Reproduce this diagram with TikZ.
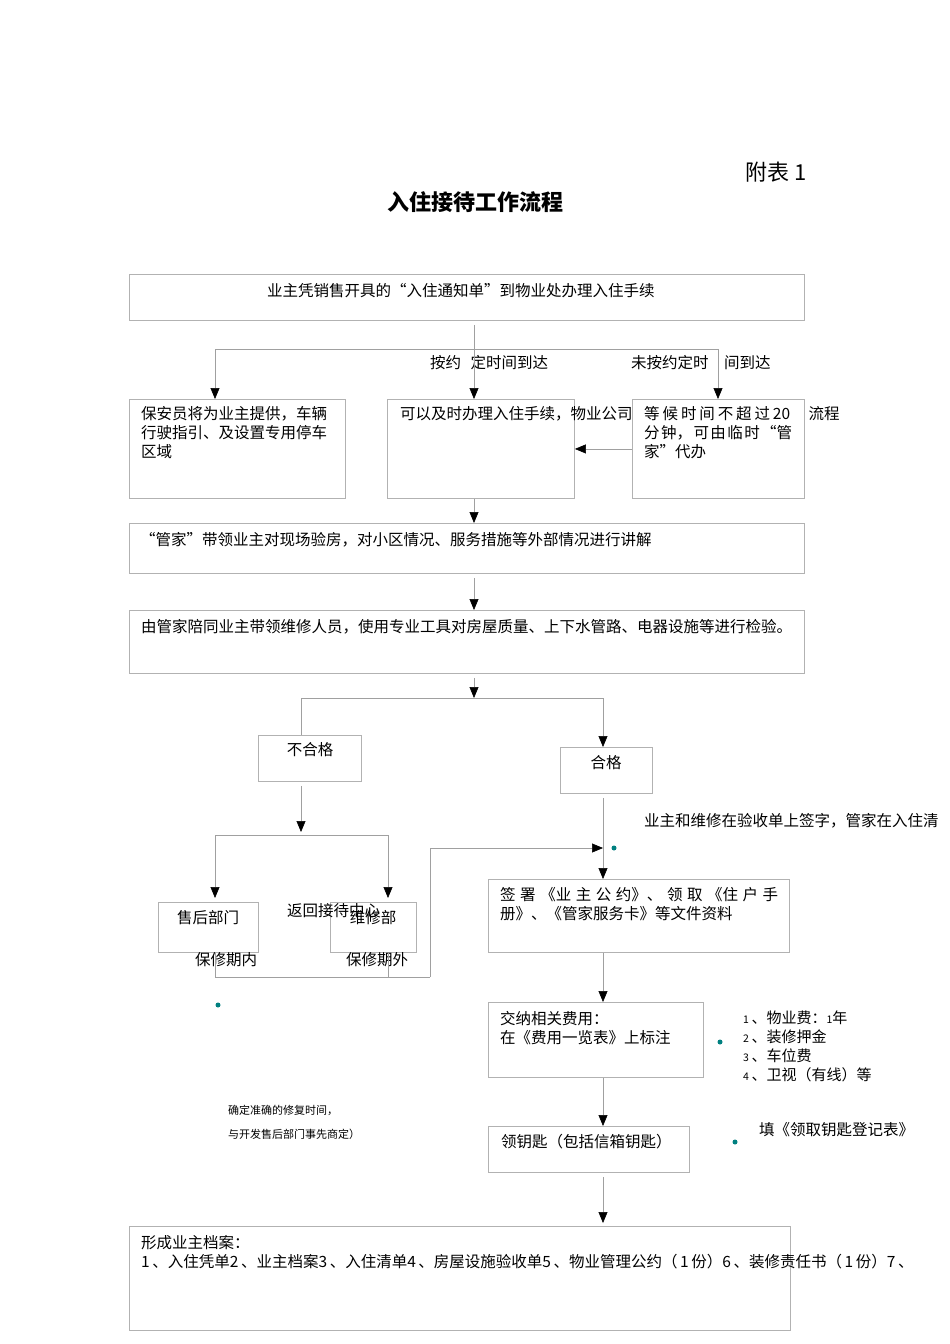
\documentclass[tikz,border=0pt]{standalone}
\usepackage{fontspec}
\setmainfont{Noto Sans CJK SC}
\usetikzlibrary{positioning, arrows.meta, calc}
\definecolor{boxgray}{RGB}{178,178,178}
\definecolor{linegray}{RGB}{160,160,160}
\definecolor{dotteal}{RGB}{0,128,128}

\begin{document}
\begin{tikzpicture}[x=1pt, y=-1pt]
        \tikzset{box/.style = {draw=boxgray, fill=white, line width=0.9pt, anchor=north west, inner sep=0pt}}
        \tikzset{txt/.style = {anchor=west, inner sep=0pt, font=\fontsize{15.5}{19}\selectfont}}
        \tikzset{multi/.style = {anchor=north west, inner sep=0pt, align=left, font=\fontsize{15.5}{19}\selectfont}}
        \tikzset{conn/.style = {draw=linegray, line width=0.6pt}}
        \tikzset{arr/.style = {conn, -{Triangle[length=11pt, width=9pt, color=black]}}}
        \tikzset{dot/.style = {circle, fill=dotteal, inner sep=0pt, minimum size=5pt}}

        \useasboundingbox (0,0) rectangle (950,1344);

        % heading
        \node[txt, font=\fontsize{22}{24}\selectfont] (annex) at (745,172) {附表 1};
        \node[anchor=center, inner sep=0pt, font=\fontsize{22}{24}\selectfont\bfseries] (title) at (475,202) {入住接待工作流程};

        % boxes
        \node[box, minimum width=675, minimum height=46] (notice) at (129,274) {};
        \node[box, minimum width=216, minimum height=99] (guard) at (129,399) {};
        \node[box, minimum width=187, minimum height=99] (ontime) at (387,399) {};
        \node[txt] (ontimetxt) at (400,414) {可以及时办理入住手续，物业公司\hspace{176pt}流程};
        \node[box, minimum width=172, minimum height=99] (late) at (632,399) {};
        \node[box, minimum width=675, minimum height=50] (tour) at (129,523) {};
        \node[box, minimum width=675, minimum height=63] (check) at (129,610) {};
        \node[box, minimum width=103, minimum height=46] (fail) at (258,735) {};
        \node[box, minimum width=92, minimum height=46] (pass) at (560,747) {};
        \node[box, minimum width=100, minimum height=50] (aftersale) at (158,902) {};
        \node[box, minimum width=86, minimum height=50] (repair) at (330,902) {};
        \node[box, minimum width=301, minimum height=73] (sign) at (488,879) {};
        \node[box, minimum width=215, minimum height=75] (fees) at (488,1002) {};
        \node[box, minimum width=201, minimum height=46] (keys) at (488,1126) {};
        \node[box, minimum width=661, minimum height=104] (archive) at (129,1226) {};

        % box texts
        \node[txt] (noticetxt) at (267,291) {业主凭销售开具的“入住通知单”到物业处办理入住手续};
        \node[multi] (guardtxt) at (141,406) {保安员将为业主提供，车辆\\行驶指引、及设置专用停车\\区域};
        \node[multi] (latetxt) at (644,406) {\makebox[146pt][s]{等\hfil 候\hfil 时\hfil 间\hfil 不\hfil 超\hfil 过\hfil 20}\\\makebox[148pt][s]{分\hfil 钟，\hfil 可\hfil 由\hfil 临\hfil 时\hfil “管}\\家”代办};
        \node[txt] (tourtxt) at (140,540) {“管家”带领业主对现场验房，对小区情况、服务措施等外部情况进行讲解};
        \node[txt] (checktxt) at (141,627) {由管家陪同业主带领维修人员，使用专业工具对房屋质量、上下水管路、电器设施等进行检验。};
        \node[anchor=center, font=\fontsize{15.5}{19}\selectfont] (failtxt) at (310,750) {不合格};
        \node[anchor=center, font=\fontsize{15.5}{19}\selectfont] (passtxt) at (606,763) {合格};
        \node[anchor=center, font=\fontsize{15.5}{19}\selectfont] (aftersaletxt) at (208,918) {售后部门};
        \node[anchor=center, font=\fontsize{15.5}{19}\selectfont] (repairtxt) at (373,918) {维修部};
        \node[txt] (backtxt) at (287,911) {返回接待中心};
        \node[multi] (signtxt) at (500,887) {\makebox[278pt][s]{签\hfil 署\hfil 《业\hfil 主\hfil 公\hfil 约》、\hfil 领\hfil 取\hfil 《住\hfil 户\hfil 手}\\册》、《管家服务卡》等文件资料};
        \node[multi] (feestxt) at (500,1011) {交纳相关费用：\\在《费用一览表》上标注};
        \node[txt] (keystxt) at (501,1142) {领钥匙（包括信箱钥匙）};
        \node[multi] (archivetxt) at (141,1235) {形成业主档案：\\1\,、入住凭单2\,、业主档案3\,、入住清单4\,、房屋设施验收单5\,、物业管理公约（\,1\,份）6\,、装修责任书（\,1\,份）7\,、};

        % labels
        \node[txt] (ontimelbl) at (430,363) {按约\hspace{0.6em}定时间到达};
        \node[txt] (latelbl) at (631,363) {未按约定时\quad 间到达};
        \node[txt] (signnote) at (644,821) {业主和维修在验收单上签字，管家在入住清};
        \node[txt] (inlbl) at (195,960) {保修期内};
        \node[txt] (outlbl) at (346,960) {保修期外};
        \node[multi, font=\fontsize{15}{19}\selectfont] (feelist) at (743,1011) {{\fontsize{10.5}{12}\selectfont 1}\,、物业费：{\fontsize{10.5}{12}\selectfont 1}年\\{\fontsize{10.5}{12}\selectfont 2}\,、装修押金\\{\fontsize{10.5}{12}\selectfont 3}\,、车位费\\{\fontsize{10.5}{12}\selectfont 4}\,、卫视（有线）等};
        \node[txt] (keynote) at (759,1130) {填《领取钥匙登记表》};
        \node[txt, font=\fontsize{11}{13}\selectfont] (note1) at (228,1110) {确定准确的修复时间，};
        \node[txt, font=\fontsize{11}{13}\selectfont] (note2) at (228,1134) {与开发售后部门事先商定）};

        % dots
        \node[dot] (dot1) at (614,848) {};
        \node[dot] (dot2) at (218,1005) {};
        \node[dot] (dot3) at (720,1042) {};
        \node[dot] (dot4) at (735,1142) {};

        % connectors
        \coordinate (fork1) at (474,349);
        \coordinate (fork1l) at (215,349);
        \coordinate (fork1r) at (718,349);
        \draw[conn] (fork1l) -- (fork1r);
        \draw[arr, shorten <=4pt] (notice.south -| fork1) -- (fork1 |- ontime.north);
        \draw[arr] (fork1l) -- (fork1l |- guard.north);
        \draw[arr] (fork1r) -- (fork1r |- late.north);
        \draw[arr] (late.west) -- (ontime.east);
        \draw[arr] (ontime.south -| fork1) -- (tour.north -| fork1);
        \draw[arr, shorten <=4pt] (tour.south -| fork1) -- (check.north -| fork1);

        \coordinate (fork2) at (474,698);
        \coordinate (fork2l) at (301,698);
        \coordinate (fork2r) at (603,698);
        \draw[arr, shorten <=4pt] (check.south -| fork2) -- (fork2);
        \draw[conn] (fork2l) -- (fork2r);
        \draw[conn] (fork2l) -- (fork2l |- fail.north);
        \draw[arr] (fork2r) -- (fork2r |- pass.north);

        \coordinate (fork3) at (301,835);
        \coordinate (fork3l) at (215,835);
        \coordinate (fork3r) at (388,835);
        \draw[arr, shorten <=4pt, shorten >=3pt] (fail.south -| fork3) -- (fork3);
        \draw[conn] (fork3l) -- (fork3r);
        \draw[arr, shorten >=4pt] (fork3l) -- (fork3l |- aftersale.north);
        \draw[arr, shorten >=4pt] (fork3r) -- (fork3r |- repair.north);

        % back to reception
        \coordinate (back) at (430,977);
        \coordinate (join) at (603,848);
        \draw[conn] (aftersale.south -| fork3l) -- (fork3l |- back) -- (back);
        \draw[conn] (repair.south -| fork3r) -- (fork3r |- back);
        \draw[arr] (back) -- (back |- join) -- (join);

        \draw[arr, shorten <=4pt] (pass.south -| join) -- (join |- sign.north);
        \draw[arr] (sign.south -| join) -- (join |- fees.north);
        \draw[arr] (fees.south -| join) -- (join |- keys.north);
        \draw[arr, shorten <=4pt, shorten >=3pt] (keys.south -| join) -- (join |- archive.north);

    \end{tikzpicture}
\end{document}
